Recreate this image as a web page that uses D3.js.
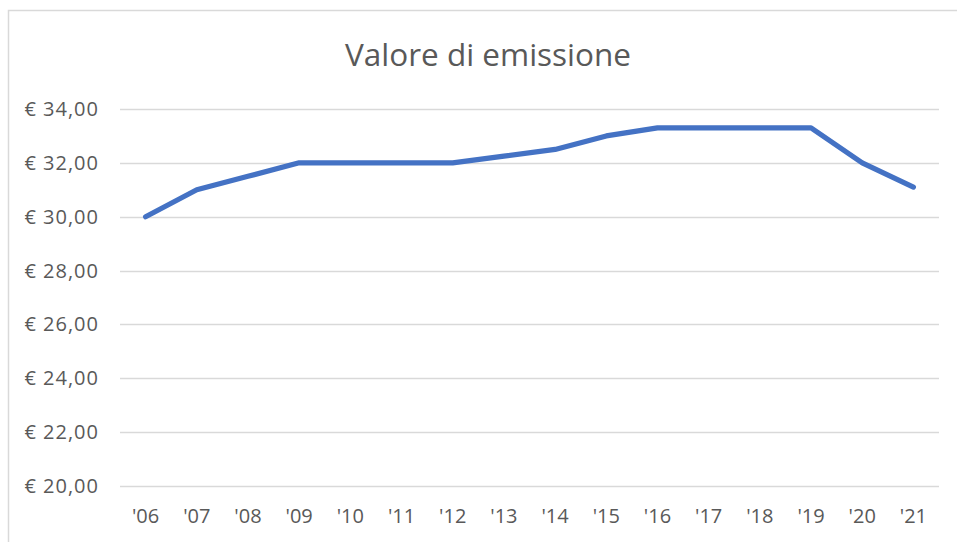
<!DOCTYPE html>
<html><head><meta charset="utf-8">
<script src="https://cdn.jsdelivr.net/npm/d3@7"></script>
<style>body{margin:0;background:#fff;}svg{display:block;}</style>
</head><body>
<svg id="c" width="957" height="542"></svg>
<script>
const years = ["'06","'07","'08","'09","'10","'11","'12","'13","'14","'15","'16","'17","'18","'19","'20","'21"];
const values = [30, 31, 31.5, 32, 32, 32, 32, 32.25, 32.5, 33, 33.3, 33.3, 33.3, 33.3, 32, 31.1];
const yTicks = [20, 22, 24, 26, 28, 30, 32, 34];
const title = "Valore di emissione";

const svg = d3.select("#c");
const W = 957, H = 542;
svg.append("rect").attr("x", 8.5).attr("y", 10.5).attr("width", W).attr("height", H)
  .attr("fill", "#fff").attr("stroke", "#d9d9d9").attr("stroke-width", 1.5);

const pL = 120, pR = 939, pT = 109, pB = 486;
const x = d3.scaleBand().domain(years).range([pL, pR]);
const y = d3.scaleLinear().domain([20, 34]).range([pB, pT]);

svg.append("text").attr("x", 488).attr("y", 66).attr("text-anchor", "middle")
  .attr("font-family", "'Open Sans', sans-serif").attr("font-size", 31.5).attr("fill", "#595959")
  .text(title);

const grid = svg.append("g");
grid.selectAll("line").data(yTicks).join("line")
  .attr("x1", pL).attr("x2", pR)
  .attr("y1", d => Math.round(y(d)) + 0.5).attr("y2", d => Math.round(y(d)) + 0.5)
  .attr("stroke", "#d9d9d9").attr("stroke-width", 1.5);

const fmt = d => "€ " + d3.format(".2f")(d).replace(".", ",");
svg.append("g").selectAll("text").data(yTicks).join("text")
  .attr("x", 99).attr("y", d => y(d)).attr("dy", "0.35em").attr("text-anchor", "end")
  .attr("font-family", "'Open Sans', sans-serif").attr("font-size", 20).attr("letter-spacing", 1)
  .attr("fill", "#595959")
  .text(fmt);

svg.append("g").selectAll("text").data(years).join("text")
  .attr("x", d => x(d) + x.bandwidth() / 2).attr("y", 516).attr("dy", "0.35em").attr("text-anchor", "middle")
  .attr("font-family", "'Open Sans', sans-serif").attr("font-size", 20).attr("fill", "#595959")
  .text(d => d);

const line = d3.line().x((d, i) => x(years[i]) + x.bandwidth() / 2).y(d => y(d));
svg.append("path").datum(values).attr("d", line)
  .attr("fill", "none").attr("stroke", "#4472c4").attr("stroke-width", 5.2)
  .attr("stroke-linejoin", "round").attr("stroke-linecap", "round");
</script>
</body></html>
